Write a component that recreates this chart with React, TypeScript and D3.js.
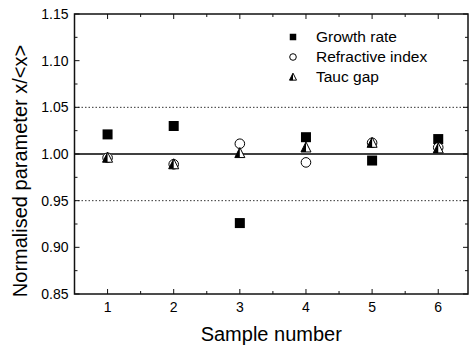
import React from "react";
import * as d3 from "d3";

const samples = [1, 2, 3, 4, 5, 6];
const growthRate = [1.021, 1.030, 0.926, 1.018, 0.993, 1.016];
const refractiveIndex = [0.996, 0.989, 1.011, 0.991, 1.012, 1.007];
const taucGap = [0.996, 0.989, 1.001, 1.007, 1.012, 1.006];
const yTicks = [0.85, 0.9, 0.95, 1.0, 1.05, 1.1, 1.15];
const yMinorTicks = [0.875, 0.925, 0.975, 1.025, 1.075, 1.125];
const xMinorTicks = [1.5, 2.5, 3.5, 4.5, 5.5];
const refLines = [0.95, 1.05];
const legendLabels = ["Growth rate", "Refractive index", "Tauc gap"];

const W = 470, H = 349;
const L = 74.5, R = 468, T = 14, B = 294;
const FONT = "'Liberation Sans', Arial, Helvetica, sans-serif";

function Square({ cx, cy, s }: { cx: number; cy: number; s: number }) {
  return <rect x={cx - s / 2} y={cy - s / 2} width={s} height={s} fill="#000" />;
}
function Circle({ cx, cy, r }: { cx: number; cy: number; r: number }) {
  return <circle cx={cx} cy={cy} r={r} fill="#fff" stroke="#000" strokeWidth={1} />;
}
function Tri({ cx, cy, s }: { cx: number; cy: number; s: number }) {
  const h = s;
  const top = cy - h * 0.55, bot = cy + h * 0.45;
  return (
    <g>
      <path d={`M${cx},${top} L${cx + s / 2},${bot} L${cx - s / 2},${bot} Z`} fill="#fff" stroke="#000" strokeWidth={1} />
      <path d={`M${cx},${top} L${cx},${bot} L${cx - s / 2},${bot} Z`} fill="#000" />
    </g>
  );
}

export default function App() {
  const x = d3.scaleLinear().domain([0.5, 6.45]).range([L, R]);
  const y = d3.scaleLinear().domain([0.85, 1.15]).range([B, T]);
  const fmt = d3.format(".2f");
  const ax = "#111";
  return (
    <svg width={W} height={H} style={{ position: "absolute", left: 0, top: 0, background: "#fff" }} fontFamily={FONT}>
      {refLines.map((v) => (
        <line key={v} x1={L} x2={R} y1={y(v)} y2={y(v)} stroke="#333" strokeWidth={1} strokeDasharray="1.5,2" />
      ))}
      <line x1={L} x2={R} y1={y(1)} y2={y(1)} stroke="#000" strokeWidth={1.5} />
      <rect x={L} y={T} width={R - L} height={B - T} fill="none" stroke={ax} strokeWidth={1.5} />
      {yTicks.map((v) => (
        <g key={v}>
          <line x1={L} x2={L + 5} y1={y(v)} y2={y(v)} stroke={ax} strokeWidth={1} />
          <line x1={R} x2={R - 5} y1={y(v)} y2={y(v)} stroke={ax} strokeWidth={1} />
          <text x={L - 6} y={y(v)} dy="0.35em" textAnchor="end" fontSize={14} fill="#000">{fmt(v)}</text>
        </g>
      ))}
      {yMinorTicks.map((v) => (
        <g key={v}>
          <line x1={L} x2={L + 3} y1={y(v)} y2={y(v)} stroke={ax} strokeWidth={1} />
          <line x1={R} x2={R - 3} y1={y(v)} y2={y(v)} stroke={ax} strokeWidth={1} />
        </g>
      ))}
      {samples.map((v) => (
        <g key={v}>
          <line x1={x(v)} x2={x(v)} y1={B} y2={B - 5} stroke={ax} strokeWidth={1} />
          <line x1={x(v)} x2={x(v)} y1={T} y2={T + 5} stroke={ax} strokeWidth={1} />
          <text x={x(v)} y={B + 18} textAnchor="middle" fontSize={14} fill="#000">{v}</text>
        </g>
      ))}
      {xMinorTicks.map((v) => (
        <g key={v}>
          <line x1={x(v)} x2={x(v)} y1={B} y2={B - 3} stroke={ax} strokeWidth={1} />
          <line x1={x(v)} x2={x(v)} y1={T} y2={T + 3} stroke={ax} strokeWidth={1} />
        </g>
      ))}
      <text x={(L + R) / 2} y={341} textAnchor="middle" fontSize={20} fill="#000">Sample number</text>
      <text transform={`translate(27,${(T + B) / 2 + 17}) rotate(-90)`} textAnchor="middle" fontSize={20} fill="#000">Normalised parameter x/&lt;x&gt;</text>
      {samples.map((s, i) => <Square key={"g" + s} cx={x(s)} cy={y(growthRate[i])} s={10} />)}
      {samples.map((s, i) => <Circle key={"r" + s} cx={x(s)} cy={y(refractiveIndex[i])} r={4.8} />)}
      {samples.map((s, i) => <Tri key={"t" + s} cx={x(s)} cy={y(taucGap[i])} s={10} />)}
      {legendLabels.map((lab, i) => {
        const cy = 37 + i * 20;
        const cx = 293;
        return (
          <g key={lab}>
            {i === 0 && <Square cx={cx} cy={cy} s={6.5} />}
            {i === 1 && <Circle cx={cx} cy={cy} r={3.3} />}
            {i === 2 && <Tri cx={cx} cy={cy} s={7} />}
            <text x={316} y={cy} dy="0.35em" fontSize={15.5} fill="#000">{lab}</text>
          </g>
        );
      })}
    </svg>
  );
}
